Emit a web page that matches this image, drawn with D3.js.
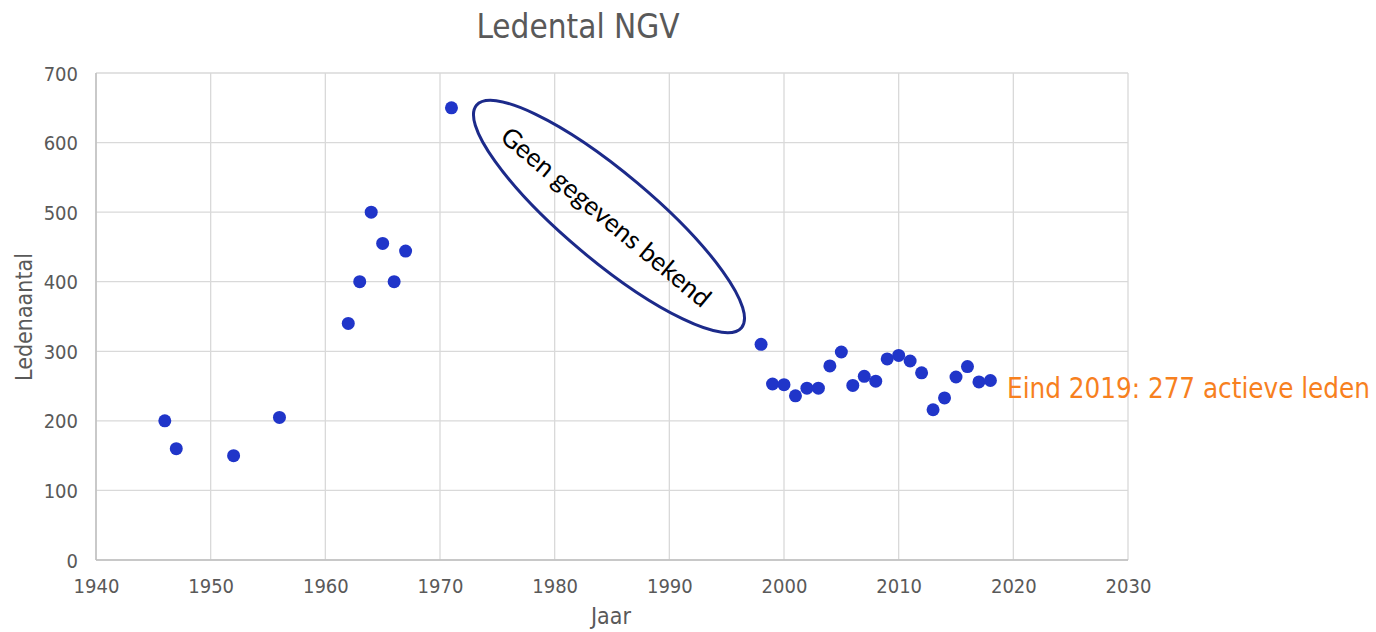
<!DOCTYPE html>
<html>
<head>
<meta charset="utf-8">
<script src="https://cdn.jsdelivr.net/npm/d3@7"></script>
<style>
  body { margin: 0; background: #fff; }
  svg { display: block; }
</style>
</head>
<body>
<svg width="1376" height="632"></svg>
<script>
"use strict";

var years = [1946, 1947, 1952, 1956, 1962, 1963, 1964, 1965, 1966, 1967, 1971,
             1998, 1999, 2000, 2001, 2002, 2003, 2004, 2005, 2006, 2007, 2008,
             2009, 2010, 2011, 2012, 2013, 2014, 2015, 2016, 2017, 2018];
var members = [200, 160, 150, 205, 340, 400, 500, 455, 400, 444, 650,
               310, 253, 252, 236, 247, 247, 279, 299, 251, 264, 257,
               289, 294, 286, 269, 216, 233, 263, 278, 256, 258];
var xTicks = [1940, 1950, 1960, 1970, 1980, 1990, 2000, 2010, 2020, 2030];
var yTicks = [0, 100, 200, 300, 400, 500, 600, 700];

var svg = d3.select("svg"),
    font = "'DejaVu Sans Condensed', 'DejaVu Sans', sans-serif",
    grey = "#595959";

var x = d3.scaleLinear().domain([1940, 2030]).range([96, 1128]),
    y = d3.scaleLinear().domain([0, 700]).range([560, 73]);

// gridlines
svg.append("g").selectAll("line.v")
    .data(xTicks).enter().append("line")
    .attr("x1", d => x(d)).attr("x2", d => x(d))
    .attr("y1", y(0)).attr("y2", y(700))
    .attr("stroke", "#d9d9d9").attr("stroke-width", 1.3);

svg.append("g").selectAll("line.h")
    .data(yTicks).enter().append("line")
    .attr("x1", x(1940)).attr("x2", x(2030))
    .attr("y1", d => y(d)).attr("y2", d => y(d))
    .attr("stroke", "#d9d9d9").attr("stroke-width", 1.3);

// axis lines
svg.append("line")
    .attr("x1", x(1940)).attr("x2", x(1940)).attr("y1", y(0)).attr("y2", y(700))
    .attr("stroke", "#bfbfbf").attr("stroke-width", 1.5);
svg.append("line")
    .attr("x1", x(1940)).attr("x2", x(2030)).attr("y1", y(0)).attr("y2", y(0))
    .attr("stroke", "#bfbfbf").attr("stroke-width", 1.5);

// tick labels
var xAxis = svg.append("g")
    .attr("transform", "translate(0," + (y(0) + 26) + ")")
    .call(d3.axisBottom(x).tickValues(xTicks).tickFormat(d3.format("d")).tickSize(0));
var yAxis = svg.append("g")
    .attr("transform", "translate(" + (x(1940) - 18) + ",0)")
    .call(d3.axisLeft(y).tickValues(yTicks).tickFormat(d3.format("d")).tickSize(0));
[xAxis, yAxis].forEach(function(a) {
  a.select(".domain").remove();
  a.selectAll("text")
      .attr("fill", grey)
      .style("font-family", font)
      .style("font-size", "20px");
});
yAxis.selectAll("text").attr("x", 0).attr("dy", "0.35em");
xAxis.selectAll("text").attr("y", 0).attr("dy", "0.35em");

// title and axis labels
svg.append("text")
    .attr("x", 578).attr("y", 38)
    .attr("text-anchor", "middle")
    .attr("fill", grey)
    .style("font-family", font).style("font-size", "33px")
    .text("Ledental NGV");

svg.append("text")
    .attr("x", 611).attr("y", 624)
    .attr("text-anchor", "middle")
    .attr("fill", grey)
    .style("font-family", font).style("font-size", "23px")
    .text("Jaar");

svg.append("text")
    .attr("transform", "translate(32,317) rotate(-90)")
    .attr("text-anchor", "middle")
    .attr("fill", grey)
    .style("font-family", font).style("font-size", "23px")
    .text("Ledenaantal");

// points
svg.append("g").selectAll("circle")
    .data(years).enter().append("circle")
    .attr("cx", d => x(d))
    .attr("cy", (d, i) => y(members[i]))
    .attr("r", 6.5)
    .attr("fill", "#2035c9");

// annotation ellipse
svg.append("ellipse")
    .attr("transform", "translate(609,216.5) rotate(40)")
    .attr("rx", 173).attr("ry", 44)
    .attr("fill", "none")
    .attr("stroke", "#1c2a8a").attr("stroke-width", 3);
svg.append("text")
    .attr("transform", "translate(606,217) rotate(39.8)")
    .attr("text-anchor", "middle")
    .attr("dy", "0.35em")
    .attr("fill", "#000")
    .style("font-family", "Lato, 'Open Sans', sans-serif").style("font-size", "26px")
    .text("Geen gegevens bekend");

svg.append("text")
    .attr("x", 1007).attr("y", 398)
    .attr("fill", "#f7801e")
    .style("font-family", font).style("font-size", "27.5px")
    .text("Eind 2019: 277 actieve leden");
</script>
</body>
</html>
